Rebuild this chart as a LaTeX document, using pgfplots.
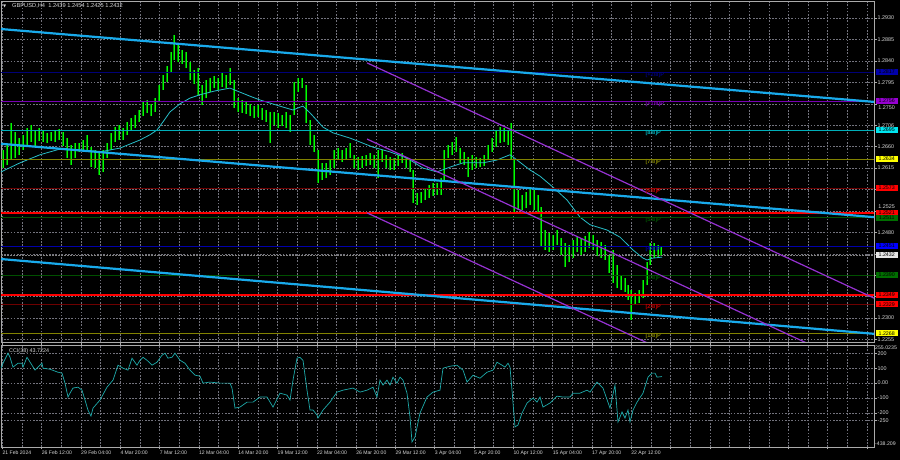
\documentclass[border=0pt]{standalone}
\usepackage{fontspec}
\setmainfont{Liberation Sans}
\newfontfamily\dejavu{DejaVu Sans}
\usepackage{pgfplots}
\usepackage{pgfplotstable}
\pgfplotsset{compat=1.18}

\definecolor{trend}{RGB}{25,170,235}
\definecolor{chan}{RGB}{150,50,210}
\definecolor{ma}{RGB}{40,190,200}
\definecolor{ccic}{RGB}{30,170,170}
\definecolor{gridc}{RGB}{115,115,125}
\definecolor{txt}{RGB}{215,215,215}
\definecolor{framec}{RGB}{170,170,170}
\definecolor{mnavy}{RGB}{0,0,120}
\definecolor{mpurple}{RGB}{120,0,180}
\definecolor{mteal}{RGB}{0,175,185}
\definecolor{molive}{RGB}{130,130,0}
\definecolor{mdred}{RGB}{110,0,0}
\definecolor{mdgreen}{RGB}{0,80,0}
\definecolor{mblue}{RGB}{0,0,170}
\definecolor{barout}{RGB}{0,135,0}
\definecolor{barin}{RGB}{0,255,0}
\definecolor{bnavy}{RGB}{0,0,170}
\definecolor{bpurple}{RGB}{150,0,210}
\definecolor{bcyan}{RGB}{0,230,240}
\definecolor{byellow}{RGB}{255,255,0}
\definecolor{bred}{RGB}{255,0,0}
\definecolor{bgreen}{RGB}{0,110,0}
\definecolor{bblue}{RGB}{0,0,255}
\definecolor{bwhite}{RGB}{230,230,230}

\pgfplotstableread{
x h l
3 1.2653 1.2615
7 1.2664 1.2622
11 1.2710 1.2632
15 1.2691 1.2636
19 1.2678 1.2643
23 1.2685 1.2653
27 1.2699 1.2664
31 1.2706 1.2670
35 1.2695 1.2661
39 1.2699 1.2672
43 1.2695 1.2670
47 1.2689 1.2668
51 1.2691 1.2672
55 1.2693 1.2670
59 1.2697 1.2674
63 1.2691 1.2661
67 1.2678 1.2636
71 1.2664 1.2622
75 1.2668 1.2636
79 1.2668 1.2649
83 1.2674 1.2653
87 1.2685 1.2649
91 1.2659 1.2617
95 1.2653 1.2615
99 1.2649 1.2601
103 1.2653 1.2607
107 1.2668 1.2636
111 1.2689 1.2653
115 1.2701 1.2670
119 1.2706 1.2674
123 1.2699 1.2674
127 1.2712 1.2685
131 1.2720 1.2695
135 1.2727 1.2699
139 1.2737 1.2712
143 1.2754 1.2724
147 1.2758 1.2731
151 1.2750 1.2724
155 1.2762 1.2733
159 1.2790 1.2754
163 1.2811 1.2779
167 1.2829 1.2796
171 1.2859 1.2817
174 1.2894 1.2842
178 1.2874 1.2838
182 1.2863 1.2834
186 1.2859 1.2825
190 1.2838 1.2800
194 1.2821 1.2792
198 1.2825 1.2769
202 1.2790 1.2748
206 1.2800 1.2762
210 1.2804 1.2775
214 1.2808 1.2783
218 1.2804 1.2779
222 1.2815 1.2785
226 1.2811 1.2783
230 1.2825 1.2790
234 1.2800 1.2741
238 1.2762 1.2733
242 1.2758 1.2731
246 1.2754 1.2729
250 1.2750 1.2724
254 1.2745 1.2720
258 1.2748 1.2722
262 1.2741 1.2716
266 1.2737 1.2712
270 1.2733 1.2668
274 1.2733 1.2706
278 1.2731 1.2699
282 1.2727 1.2703
286 1.2733 1.2699
290 1.2727 1.2691
294 1.2796 1.2727
298 1.2804 1.2775
302 1.2804 1.2783
306 1.2790 1.2710
310 1.2716 1.2664
314 1.2685 1.2649
318 1.2653 1.2584
322 1.2626 1.2590
326 1.2626 1.2594
330 1.2632 1.2601
334 1.2653 1.2615
338 1.2657 1.2632
342 1.2653 1.2628
346 1.2657 1.2632
350 1.2668 1.2636
354 1.2643 1.2615
358 1.2638 1.2611
362 1.2640 1.2615
366 1.2643 1.2619
370 1.2647 1.2622
374 1.2643 1.2615
378 1.2653 1.2594
382 1.2653 1.2628
386 1.2643 1.2615
390 1.2638 1.2611
394 1.2636 1.2611
398 1.2643 1.2619
402 1.2647 1.2626
406 1.2638 1.2615
410 1.2632 1.2607
413 1.2611 1.2542
417 1.2563 1.2538
421 1.2565 1.2542
425 1.2573 1.2548
429 1.2580 1.2552
433 1.2584 1.2556
437 1.2584 1.2559
441 1.2594 1.2559
444 1.2653 1.2590
448 1.2664 1.2636
452 1.2670 1.2643
456 1.2680 1.2649
460 1.2657 1.2626
464 1.2649 1.2622
468 1.2638 1.2596
472 1.2643 1.2611
476 1.2638 1.2615
480 1.2636 1.2617
484 1.2643 1.2619
488 1.2664 1.2632
492 1.2678 1.2649
496 1.2695 1.2659
500 1.2701 1.2668
504 1.2699 1.2670
508 1.2695 1.2664
511 1.2710 1.2632
514 1.2632 1.2521
518 1.2569 1.2527
522 1.2559 1.2527
526 1.2565 1.2531
530 1.2573 1.2538
534 1.2569 1.2527
538 1.2559 1.2523
541 1.2533 1.2449
545 1.2485 1.2443
549 1.2479 1.2439
553 1.2475 1.2443
557 1.2485 1.2454
561 1.2468 1.2433
565 1.2458 1.2407
569 1.2454 1.2418
573 1.2464 1.2426
577 1.2470 1.2439
581 1.2468 1.2433
585 1.2472 1.2439
589 1.2481 1.2447
593 1.2475 1.2443
597 1.2464 1.2430
601 1.2460 1.2426
605 1.2454 1.2422
609 1.2433 1.2395
613 1.2443 1.2374
617 1.2412 1.2363
621 1.2388 1.2359
625 1.2384 1.2355
628 1.2370 1.2338
631 1.2359 1.2296
635 1.2353 1.2328
639 1.2359 1.2332
643 1.2380 1.2342
647 1.2418 1.2370
650 1.2458 1.2412
654 1.2458 1.2426
658 1.2454 1.2426
661 1.2449 1.2430
}\bars

\pgfplotstableread{
x p
1 1.2607
20 1.2626
40 1.2643
60 1.2655
80 1.2653
100 1.2649
120 1.2657
140 1.2674
150 1.2685
157 1.2695
163 1.2712
170 1.2733
180 1.2750
190 1.2762
200 1.2769
215 1.2777
230 1.2783
237 1.2777
250 1.2766
260 1.2758
280 1.2745
293 1.2737
300 1.2743
303 1.2745
310 1.2731
323 1.2701
333 1.2689
350 1.2678
373 1.2659
390 1.2649
407 1.2636
423 1.2615
437 1.2607
450 1.2617
463 1.2626
483 1.2626
497 1.2632
510 1.2643
517 1.2632
530 1.2611
540 1.2598
553 1.2575
567 1.2548
580 1.2512
590 1.2496
607 1.2485
620 1.2470
633 1.2443
643 1.2426
647 1.2422
653 1.2426
662 1.2428
}\matab

\pgfplotstableread{
x v
1 100
3 133
8 200
10 173
13 107
18 133
22 133
23 107
27 173
32 120
35 87
38 107
42 133
43 100
50 93
58 73
62 67
65 0
68 -93
70 -67
73 -33
78 -27
82 -47
85 -113
88 -180
91 -220
93 -167
100 -113
107 -27
113 20
118 120
123 100
128 87
132 167
137 120
140 153
143 173
147 153
152 120
157 140
162 187
165 200
168 167
172 173
175 200
180 153
185 133
190 87
195 53
200 47
203 0
210 7
220 0
230 0
232 -33
235 -167
240 -160
247 -127
253 -127
260 -93
267 -93
273 -160
280 -67
287 -80
290 -113
293 20
297 167
300 173
303 153
307 -47
310 -180
313 -180
317 -213
318 -233
323 -180
330 -127
337 -60
343 -47
353 -33
360 -60
367 -47
373 -27
377 -93
380 20
383 -13
387 20
390 -13
393 40
397 0
400 40
403 20
407 -67
410 -227
412 -393
415 -360
420 -200
427 -93
433 -60
440 -47
443 100
450 113
457 120
463 87
467 7
473 53
480 33
487 73
493 87
497 140
502 120
505 107
508 133
510 107
512 -47
515 -293
518 -280
522 -200
527 -133
533 -100
537 -127
540 -93
543 -160
550 -133
557 -87
563 -93
570 -93
573 -67
580 -67
587 -47
590 -60
597 7
603 -33
610 -167
615 -13
618 -260
622 -193
625 -233
628 -180
630 -260
633 -180
637 -127
643 -67
648 40
652 67
655 67
657 40
662 44
}\ccitab

\pgfplotsset{
  mt/.style={
    scale only axis, width=873pt, xmin=1, xmax=874,
    axis line style={framec, line width=0.6pt},
    xtick={2.4,41.7,81.0,120.3,159.6,198.9,238.2,277.5,316.8,356.1,395.4,434.7,474.0,513.3,552.6,591.9,631.2,670.5,709.8,749.1,788.4,827.7,867.0},
    minor x tick num=1,
    grid=both,
    grid style={gridc, dash pattern=on 1.6pt off 1.6pt, line width=0.5pt},
    minor grid style={gridc, dash pattern=on 1.6pt off 1.6pt, line width=0.5pt},
    ytick pos=right, yticklabel pos=right,
    tick align=outside, major tick length=2.5pt, minor tick length=0pt,
    tick style={framec, line width=0.5pt},
    tick label style={font=\fontsize{5.4}{6}\selectfont, text=txt},
    yticklabel style={anchor=west, inner sep=1pt},
    clip mode=individual,
  },
}
\tikzset{
  lvl/.style={anchor=north west, inner sep=0.4pt, font=\bfseries\fontsize{5.6}{6}\selectfont},
  box/.style={anchor=west, xshift=1.5pt, inner xsep=1.2pt, inner ysep=0.8pt, minimum width=22pt, text height=3.9pt, text depth=0.4pt, font=\fontsize{5.3}{6}\selectfont, text=black},
  hl/.style={line width=0.55pt},
  rlab/.style={anchor=west, xshift=3.2pt, inner sep=1pt, text=txt, font=\fontsize{5.4}{6}\selectfont},
}

\begin{document}
\begin{tikzpicture}
\fill[black] (0,0) rectangle (900pt,460pt);
\useasboundingbox (0,0) rectangle (900pt,460pt);

% ---------------- main price window ----------------
\begin{axis}[mt, at={(1pt,118pt)}, anchor=south west, height=341pt,
  ymin=1.22498, ymax=1.29659,
  xticklabels={}, xmajorticks=false, xminorticks=false,
  ytick={1.2255,1.2300,1.2345,1.2390,1.2435,1.2480,1.2525,1.2570,1.2615,1.2660,1.2705,1.2750,1.2795,1.2840,1.2885,1.2930},
  yticklabels={1.2255,1.2300,{},{},{},1.2480,{},{},1.2615,1.2660,1.2706,{},1.2795,1.2840,1.2885,1.2930},
]
% bars
\addplot[draw=none, mark=none, forget plot, error bars/.cd, y dir=plus, y explicit, error mark=none,
  error bar style={barout, line width=1.8pt}] table[x=x, y=l, y error expr=\thisrow{h}-\thisrow{l}] {\bars};
\addplot[draw=none, mark=none, forget plot, error bars/.cd, y dir=plus, y explicit, error mark=none,
  error bar style={barin, line width=0.8pt}] table[x=x, y=l, y error expr=\thisrow{h}-\thisrow{l}] {\bars};
% moving average
\addplot[ma, line width=0.8pt, mark=none] table[x=x, y=p] {\matab};
% Murrey levels
\addplot[mnavy, hl] coordinates {(1,1.2817) (874,1.2817)};
\addplot[mpurple, hl] coordinates {(1,1.2756) (874,1.2756)};
\addplot[mteal, hl] coordinates {(1,1.2695) (874,1.2695)};
\addplot[molive, hl] coordinates {(1,1.2634) (874,1.2634)};
\addplot[mdred, hl] coordinates {(1,1.2573) (874,1.2573)};
\addplot[mdgreen, hl] coordinates {(1,1.2512) (874,1.2512)};
\addplot[mblue, hl] coordinates {(1,1.2451) (874,1.2451)};
\addplot[mdgreen, hl] coordinates {(1,1.2390) (874,1.2390)};
\addplot[mdred, hl] coordinates {(1,1.2329) (874,1.2329)};
\addplot[molive, hl] coordinates {(1,1.2268) (874,1.2268)};
% support / resistance
\addplot[red, line width=2.2pt] coordinates {(1,1.2521) (874,1.2521)};
\addplot[red, line width=2.2pt] coordinates {(1,1.2349) (874,1.2349)};
% bid line
\addplot[gray, line width=1.4pt, dash pattern=on 2pt off 1pt] coordinates {(1,1.2432) (874,1.2432)};
% trend lines
\addplot[trend, line width=2.2pt] coordinates {(1,1.2907) (874,1.2754)};
\addplot[trend, line width=2.2pt] coordinates {(1,1.2666) (874,1.2512)};
\addplot[trend, line width=2.2pt] coordinates {(1,1.2424) (874,1.2267)};
% channel
\addplot[chan, line width=1.2pt] coordinates {(367,1.2836) (874,1.2342)};
\addplot[chan, line width=1.2pt] coordinates {(367,1.2676) (874,1.2182)};
\addplot[chan, line width=1.2pt] coordinates {(367,1.2521) (874,1.2027)};
% level labels
\node[lvl, text=mnavy] at (axis cs:645,1.2817) {[+2/8]P};
\node[lvl, text=mpurple] at (axis cs:645,1.2756) {[+1/8]P};
\node[lvl, text=mteal] at (axis cs:645,1.2695) {[8/8]P};
\node[lvl, text=molive] at (axis cs:645,1.2634) {[7/8]P};
\node[lvl, text=red!75!black] at (axis cs:645,1.2573) {[6/8]P};
\node[lvl, text=mdgreen] at (axis cs:645,1.2512) {[5/8]P};
\node[lvl, text=mblue] at (axis cs:645,1.2451) {[4/8]P};
\node[lvl, text=mdgreen] at (axis cs:645,1.2390) {[3/8]P};
\node[lvl, text=red!75!black] at (axis cs:645,1.2329) {[2/8]P};
\node[lvl, text=molive] at (axis cs:645,1.2268) {[1/8]P};
% scale labels partly covered by the price boxes
\node[rlab, yshift=-3.6pt] at (axis cs:874,1.2750) {1.2750};
\node[rlab, yshift=4.4pt] at (axis cs:874,1.2525) {1.2525};
% price boxes
\node[box, fill=bnavy] at (axis cs:874,1.2817) {1.2817};
\node[box, fill=bpurple] at (axis cs:874,1.2756) {1.2756};
\node[box, fill=bcyan] at (axis cs:874,1.2695) {1.2695};
\node[box, fill=byellow] at (axis cs:874,1.2634) {1.2634};
\node[box, fill=bred] at (axis cs:874,1.2573) {1.2573};
\node[box, fill=bred] at (axis cs:874,1.2521) {1.2521};
\node[box, fill=bgreen] at (axis cs:874,1.2511) {1.2511};
\node[box, fill=bblue] at (axis cs:874,1.2451) {1.2451};
\node[box, fill=bwhite] at (axis cs:874,1.2432) {1.2432};
\node[box, fill=bgreen] at (axis cs:874,1.2390) {1.2390};
\node[box, fill=bred] at (axis cs:874,1.2349) {1.2349};
\node[box, fill=bred] at (axis cs:874,1.2329) {1.2329};
\node[box, fill=byellow] at (axis cs:874,1.2268) {1.2268};
\end{axis}

% ---------------- CCI window ----------------
\begin{axis}[mt, at={(1pt,13pt)}, anchor=south west, height=102pt,
  ymin=-427, ymax=255,
  xticklabels={21 Feb 2024,26 Feb 12:00,29 Feb 04:00,4 Mar 20:00,7 Mar 12:00,12 Mar 04:00,14 Mar 20:00,19 Mar 12:00,22 Mar 04:00,26 Mar 20:00,29 Mar 12:00,3 Apr 04:00,5 Apr 20:00,10 Apr 12:00,15 Apr 04:00,17 Apr 20:00,22 Apr 12:00,{},{},{},{},{},{}},
  xticklabel style={anchor=north west, inner sep=0pt, yshift=-1.5pt, font=\fontsize{5.1}{6}\selectfont},
  ytick={-250,-200,-100,0,100,200},
  yticklabels={-250,-200,-100,0.00,100,200},
]
\addplot[ccic, line width=0.7pt, mark=none] table[x=x, y=v] {\ccitab};
\node[anchor=north west, inner sep=1pt, text=txt, font=\fontsize{5.2}{6}\selectfont] at (axis cs:874,255) {255.0235};
\node[anchor=south west, inner sep=1pt, text=txt, font=\fontsize{5.2}{6}\selectfont] at (axis cs:874,-427) {-438.209};
\end{axis}

% titles
\node[anchor=west, inner sep=0, text=txt, font=\dejavu\fontsize{4}{5}\selectfont] at (3pt,454pt) {▼};
\node[anchor=west, inner sep=0, text=txt, font=\fontsize{5.7}{6}\selectfont] at (12pt,454pt) {GBPUSD,H4\ \ 1.2439 1.2454 1.2425 1.2432};
\node[anchor=west, inner sep=0, text=txt, font=\fontsize{5.4}{6}\selectfont] at (9pt,109pt) {CCI(38) 43.7224};
\end{tikzpicture}
\end{document}
